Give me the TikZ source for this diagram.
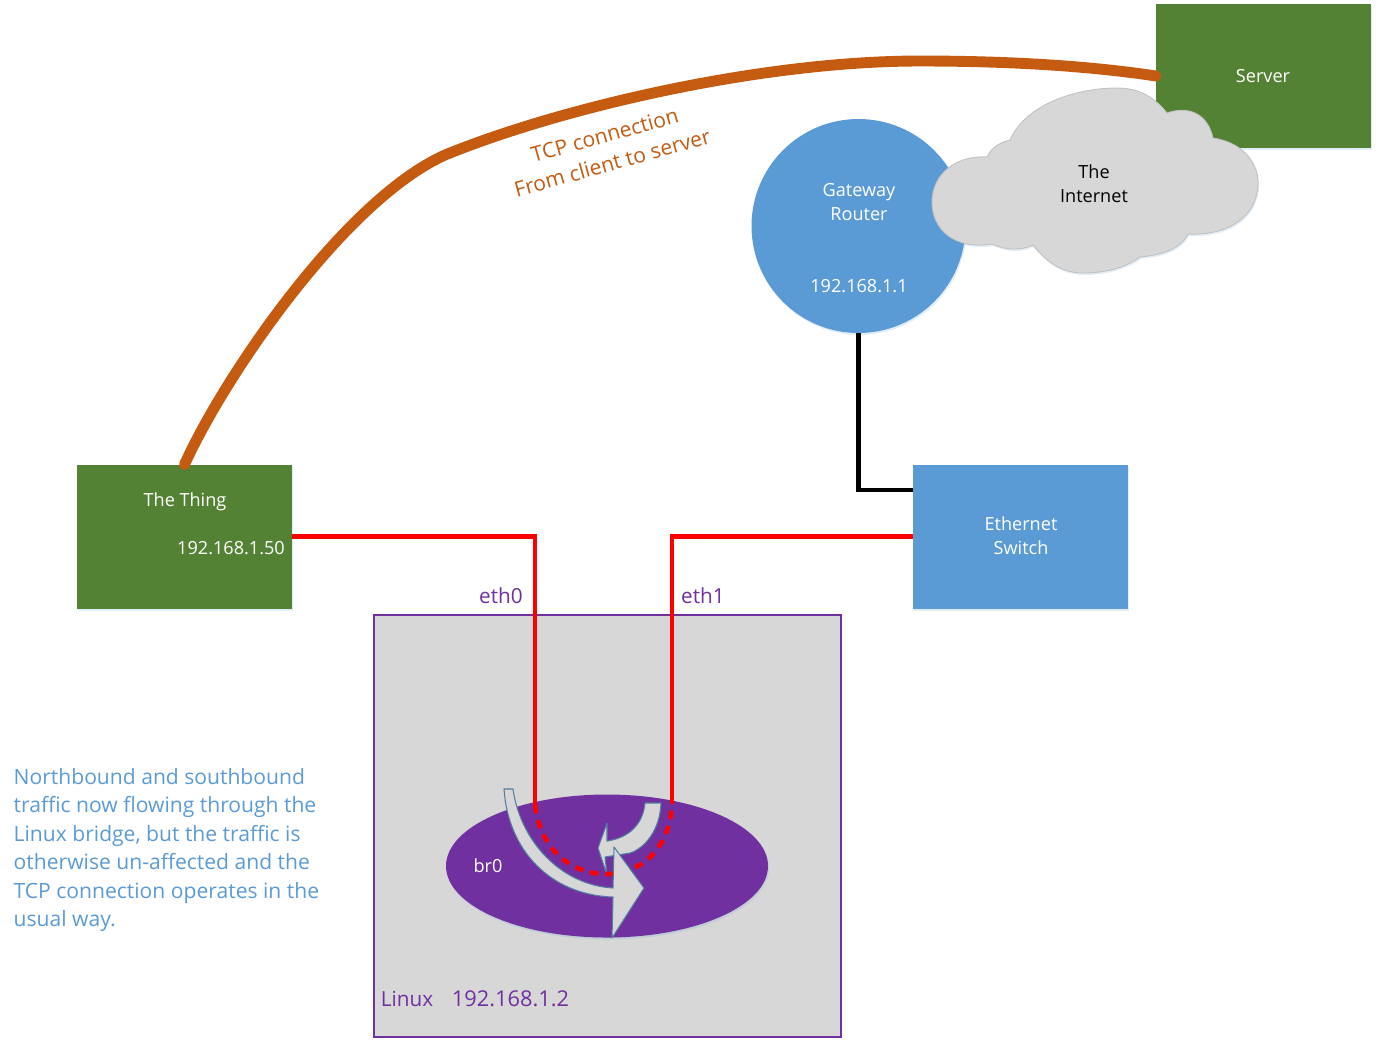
\documentclass[tikz,border=0pt]{standalone}
\usepackage{fontspec}
\setmainfont{Open Sans}
\usetikzlibrary{calc,shadows,shapes.geometric}
\definecolor{netGreen}{RGB}{84,130,53}
\definecolor{netBlue}{RGB}{91,155,213}
\definecolor{netGrey}{RGB}{215,215,215}
\definecolor{netPurple}{RGB}{112,48,160}
\definecolor{netOrange}{RGB}{197,90,17}
\definecolor{netEdge}{RGB}{80,125,160}
\tikzset{
  softshadow/.style={drop shadow={shadow xshift=0.1mm,shadow yshift=-0.2mm,fill=netBlue,opacity=0.18}},
  hostbox/.style={rectangle,fill=netGreen,minimum width=21.5mm,minimum height=14.4mm,inner sep=0pt,outer sep=0pt,softshadow},
  switchbox/.style={rectangle,fill=netBlue,minimum width=21.5mm,minimum height=14.4mm,inner sep=0pt,outer sep=0pt,softshadow},
  boxtext/.style={text=white,inner sep=0pt,align=center,font=\fontsize{5.15pt}{6.8pt}\selectfont},
  purpletext/.style={text=netPurple,inner sep=0pt,font=\fontsize{5.9pt}{7pt}\selectfont},
  ethline/.style={draw=red,line width=1.3pt},
  flowarrow/.style={fill=netGrey,draw=netEdge,line width=0.3pt,line join=round},
}
\begin{document}
\begin{tikzpicture}[x=0.1mm,y=-0.1mm]
  \useasboundingbox (0,0) rectangle (1379,1049);
  % linux box and bridge
  \node[rectangle,fill=netGrey,draw=netPurple,line width=0.5pt,minimum width=46.7mm,minimum height=42.2mm,inner sep=0pt,outer sep=0pt] (linux) at (607.5,826) {};
  \node[ellipse,fill=netPurple,minimum width=32.2mm,minimum height=14.3mm,inner sep=0pt,outer sep=0pt,softshadow] (bridge) at (607,866) {};
  % boxes
  \node[hostbox] (server) at (1263.5,76) {};
  \node[hostbox] (thing) at (184.5,536.5) {};
  \node[switchbox] (switch) at (1020.5,536.5) {};
  \node[circle,fill=netBlue,minimum size=21.4mm,inner sep=0pt,outer sep=0pt,softshadow] (router) at (858.5,226) {};
  % cloud
  \path[fill=netGrey,draw=netGrey!90!black,line width=0.25pt,softshadow] (987,157)
    .. controls (992,146) and (1002,142) .. (1010,140)
    .. controls (1025,105) and (1075,88) .. (1117,88)
    .. controls (1140,88) and (1155,98) .. (1167,113)
    .. controls (1190,105) and (1208,115) .. (1213,138)
    .. controls (1240,142) and (1258,160) .. (1258,183)
    .. controls (1258,215) and (1230,236) .. (1188,234)
    .. controls (1180,250) and (1160,255) .. (1140,257)
    .. controls (1125,268) and (1105,273) .. (1083,273)
    .. controls (1060,273) and (1045,260) .. (1033,245)
    .. controls (1020,251) and (1005,250) .. (992,244)
    .. controls (955,250) and (932,230) .. (932,202)
    .. controls (932,175) and (955,155) .. (987,157) -- cycle;
  % connectors
  \coordinate (eth0end) at (535,805);
  \coordinate (eth1end) at (672,803);
  \coordinate (swinlet) at (913,490);
  \draw[ethline] (thing.east) -| (eth0end);
  \draw[ethline] (switch.west) -| (eth1end);
  \draw[line width=1.2pt] (router.south) |- (swinlet);
  \draw[draw=netOrange,line width=3.1pt,line cap=round] (thing.north)
    .. controls (225,375) and (345,200) .. (445,155)
    .. controls (560,108) and (760,61) .. (920,61)
    .. controls (1010,61) and (1090,66) .. (server.west);
  % arrows and tunnel through the bridge
  \path[flowarrow] (645,803) -- (661,803)
    .. controls (660,830) and (645,848) .. (630,853)
    -- (605,857) -- (607,875) -- (598,848) -- (607,823) -- (607,841)
    .. controls (628,838) and (643,825) .. (645,803) -- cycle;
  \draw[red,line width=1.3pt,dash pattern=on 2.4pt off 2pt] (eth0end)
    .. controls (540,850) and (572,874) .. (606,874)
    .. controls (640,874) and (670,850) .. (eth1end);
  \path[flowarrow] (504,789) -- (513,789)
    .. controls (520,840) and (560,885) .. (613,888)
    -- (614,847) -- (644,888) -- (612,938) -- (613,897)
    .. controls (550,895) and (508,850) .. (504,789) -- cycle;
  % labels
  \node[boxtext] (servertxt) at (1263,76) {Server};
  \node[boxtext] (thingtxt) at (185,502) {The Thing};
  \node[boxtext] (thingip) at (231,548) {192.168.1.50};
  \node[boxtext] (switchtxt) at (1021,536) {Ethernet\\Switch};
  \node[boxtext] (routertxt) at (859,202) {Gateway\\Router};
  \node[boxtext] (routerip) at (859,286) {192.168.1.1};
  \node[boxtext,text=black] (cloudtxt) at (1094,184) {The\\Internet};
  \node[boxtext] (bridgetxt) at (488,866) {br0};
  \node[purpletext] (eth0txt) at (501,596) {eth0};
  \node[purpletext] (eth1txt) at (703,596) {eth1};
  \node[purpletext] (linuxtxt) at (407,999) {Linux};
  \node[purpletext,font=\fontsize{6.2pt}{7pt}\selectfont] (linuxip) at (510.5,999) {192.168.1.2};
  \node[text=netOrange,inner sep=0pt,align=center,rotate=15.5,font=\fontsize{6pt}{8.2pt}\selectfont] (tcptxt) at (608.5,149) {TCP connection\\From client to server};
  \node[text=netBlue,inner sep=0pt,anchor=west,align=left,font=\fontsize{6pt}{8.12pt}\selectfont] (notetxt) at (13,850)
    {Northbound and southbound\\traffic now flowing through the\\Linux bridge, but the traffic is\\otherwise un-affected and the\\TCP connection operates in the\\usual way.};
\end{tikzpicture}
\end{document}
